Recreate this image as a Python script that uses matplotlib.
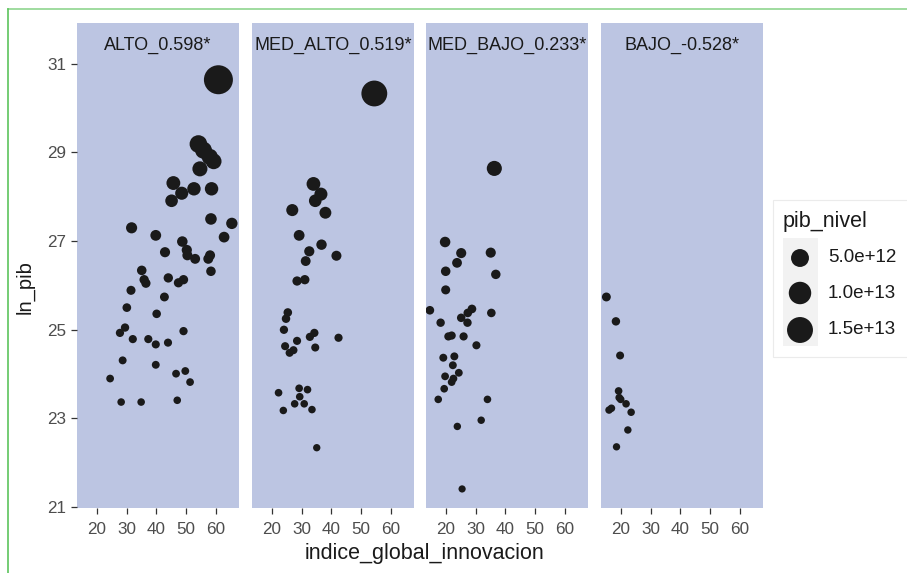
import numpy as np
import matplotlib
matplotlib.use("Agg")
import matplotlib.pyplot as plt
from matplotlib.patches import Rectangle

plt.rcParams['font.family'] = ['Liberation Sans', 'DejaVu Sans']

DPI = 100
W, H = 907, 573

# facet titles (group + correlation)
panel_names = ["ALTO_0.598*", "MED_ALTO_0.519*", "MED_BAJO_0.233*", "BAJO_-0.528*"]

# indice_global_innovacion / ln_pib
alto_x = [60.8, 54.1, 55.8, 57.9, 59.2, 54.6, 45.7, 48.5, 52.6, 58.5, 45.1, 58.3, 65.3,
          62.7, 31.7, 39.8, 48.7, 42.9, 50.2, 50.4, 53.0, 57.4, 58.0, 58.3, 35.1, 35.9,
          36.5, 44.0, 47.4, 49.1, 31.5, 42.7, 30.1, 40.1, 27.8, 29.5, 32.1, 37.3, 39.8,
          43.9, 49.1, 28.7, 39.8, 24.5, 46.6, 49.7, 51.3, 28.2, 34.9, 47.0]
alto_y = [30.64, 29.19, 29.05, 28.90, 28.80, 28.63, 28.31, 28.08, 28.18, 28.18, 27.91,
          27.50, 27.40, 27.09, 27.30, 27.13, 26.99, 26.75, 26.80, 26.68, 26.60, 26.60,
          26.68, 26.32, 26.34, 26.13, 26.05, 26.17, 26.06, 26.13, 25.89, 25.74, 25.50,
          25.36, 24.93, 25.05, 24.79, 24.79, 24.67, 24.71, 24.97, 24.31, 24.21, 23.90,
          24.01, 24.07, 23.82, 23.37, 23.37, 23.41]

med_alto_x = [54.4, 34.0, 36.5, 34.6, 26.9, 38.0, 29.2, 36.7, 32.6, 31.4, 41.7, 28.5,
              31.1, 25.4, 24.8, 24.1, 34.3, 32.8, 42.4, 28.5, 24.5, 27.3, 26.0, 34.6,
              22.3, 29.2, 32.0, 29.4, 27.7, 30.9, 23.9, 33.5, 35.1]
med_alto_y = [30.33, 28.29, 28.06, 27.91, 27.70, 27.64, 27.13, 26.92, 26.77, 26.55,
              26.67, 26.10, 26.13, 25.39, 25.25, 25.00, 24.93, 24.84, 24.82, 24.75,
              24.63, 24.54, 24.48, 24.60, 23.58, 23.68, 23.65, 23.49, 23.33, 23.33,
              23.18, 23.20, 22.34]

med_bajo_x = [36.3, 19.8, 25.2, 35.1, 23.8, 20.0, 36.8, 20.0, 14.7, 18.3, 27.4, 28.8,
              25.2, 27.3, 35.3, 20.9, 22.0, 26.0, 30.3, 19.2, 22.9, 22.4, 19.8, 24.4,
              22.6, 22.0, 19.5, 17.5, 34.0, 31.9, 23.9, 25.5]
med_bajo_y = [28.64, 26.98, 26.73, 26.74, 26.51, 26.32, 26.25, 25.90, 25.44, 25.16,
              25.38, 25.47, 25.27, 25.16, 25.38, 24.85, 24.87, 24.85, 24.65, 24.37,
              24.40, 24.20, 23.95, 24.03, 23.90, 23.82, 23.67, 23.43, 23.43, 22.96,
              22.82, 21.41]

bajo_x = [15.2, 18.4, 19.8, 19.3, 19.5, 20.0, 21.8, 16.9, 16.1, 23.5, 22.4, 18.6]
bajo_y = [25.74, 25.19, 24.42, 23.62, 23.47, 23.43, 23.33, 23.23, 23.19, 23.14,
          22.74, 22.36]

panel_x = [alto_x, med_alto_x, med_bajo_x, bajo_x]
panel_y = [alto_y, med_alto_y, med_bajo_y, bajo_y]

x_ticks = [20, 30, 40, 50, 60]
y_ticks = [21, 23, 25, 27, 29, 31]

legend_values = [5.0e12, 1.0e13, 1.5e13]
legend_labels = ["5.0e+12", "1.0e+13", "1.5e+13"]

# pib_nivel is the level behind ln_pib
pib_max = np.exp(np.concatenate([np.array(v) for v in panel_y])).max()


def point_size(pib):
    # area-style size scale, like ggplot's scale_size
    d_px = 7 + 22 * np.sqrt(np.asarray(pib, dtype=float) / pib_max)
    return (d_px * 72 / DPI) ** 2


panel_bg = '#BCC5E2'
point_color = '#1A1A1A'

fig = plt.figure(figsize=(W / DPI, H / DPI), dpi=DPI, facecolor='white')

panel_left = [77, 252, 426, 601]
panel_w = 162
panel_top, panel_bottom = 23, 508

for i, (name, xs, ys) in enumerate(zip(panel_names, panel_x, panel_y)):
    ax = fig.add_axes([panel_left[i] / W, 1 - panel_bottom / H,
                       panel_w / W, (panel_bottom - panel_top) / H])
    ax.set_facecolor(panel_bg)
    for s in ax.spines.values():
        s.set_visible(False)
    pib = np.exp(np.array(ys))
    ax.scatter(xs, ys, s=point_size(pib), c=point_color, linewidths=0, zorder=3)
    ax.set_xlim(13.4, 67.7)
    ax.set_ylim(20.98, 31.92)
    ax.set_xticks(x_ticks)
    ax.set_yticks(y_ticks)
    ax.tick_params(axis='both', length=4.3, width=0.9, color='#333333',
                   labelsize=12.3, labelcolor='#4D4D4D')
    ax.tick_params(axis='x', pad=6)
    ax.tick_params(axis='y', pad=3.5)
    if i > 0:
        ax.tick_params(axis='y', left=False, labelleft=False)
    ax.text(0.5, 0.944, name, transform=ax.transAxes, ha='center', va='baseline',
            fontsize=13, color='#1A1A1A', zorder=4)

fig.text(424 / W, 1 - 559 / H, 'indice_global_innovacion', ha='center',
         va='baseline', fontsize=15.5, color='#1A1A1A')
fig.text(30 / W, 1 - 287 / H, 'ln_pib', rotation=90, ha='center', va='baseline',
         rotation_mode='anchor', fontsize=14.5, color='#1A1A1A')

# overlay in pixel units for the legend and the green frame
ov = fig.add_axes([0, 0, 1, 1], facecolor='none')
ov.set_xlim(0, W)
ov.set_ylim(H, 0)
ov.axis('off')

ov.add_patch(Rectangle((773, 200), 140, 157, facecolor='white', edgecolor='#EBEBEB',
                       linewidth=0.8))
ov.text(783, 227, 'pib_nivel', ha='left', va='baseline', fontsize=15.5, color='#1A1A1A')
ov.add_patch(Rectangle((783, 238), 35, 108, facecolor='#F2F2F2', edgecolor='none'))
key_y = [258, 293, 330]
ov.scatter([800] * 3, key_y, s=point_size(legend_values), c=point_color,
           linewidths=0, zorder=3)
for ky, lab in zip(key_y, legend_labels):
    ov.text(828, ky, lab, ha='left', va='center', fontsize=13.5, color='#1A1A1A')

ov.plot([8, W], [9, 9], color='#8FD68F', linewidth=1.2)
ov.plot([8, 8], [9, H], color='#5CC45C', linewidth=1.2)

fig.savefig('out.png', dpi=DPI, facecolor='white')
